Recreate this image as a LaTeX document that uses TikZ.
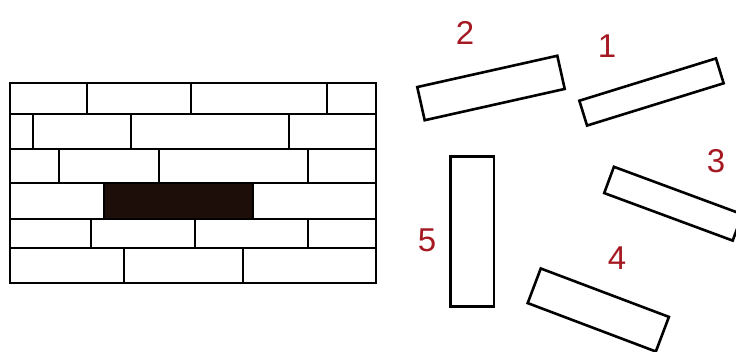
\documentclass[tikz,border=0pt]{standalone}
\usepackage{fontspec}
\setsansfont{Liberation Sans}
\usetikzlibrary{positioning}
\definecolor{LabelRed}{RGB}{165, 25, 35}
\definecolor{HoleBlack}{RGB}{30, 14, 10}

\begin{document}
\begin{tikzpicture}[
    x=1pt, y=-1pt,
    wall/.style={draw=black, line width=2.9pt},
    brick/.style={rectangle, draw=black, line width=2.6pt, fill=white, inner sep=0pt},
    num/.style={text=LabelRed, inner sep=0pt, font=\sffamily\fontsize{33}{35}\selectfont}
  ]
    \useasboundingbox (0,0) rectangle (736,352);

    % Missing brick
    \fill[HoleBlack] (104,183) rectangle (253,219);

    % Wall outline and courses
    \draw[wall] (10,83) rectangle (376,283);
    \foreach \y in {114, 149, 183, 219, 248} {
      \draw[wall] (10,\y) -- (376,\y);
    }

    % Joints
    \foreach \x/\ya/\yb in {87/83/114, 191/83/114, 327/83/114,
                            33/114/149, 131/114/149, 289/114/149,
                            59/149/183, 159/149/183, 308/149/183,
                            104/183/219, 253/183/219,
                            91/219/248, 195/219/248, 308/219/248,
                            124/248/283, 243/248/283} {
      \draw[wall] (\x,\ya) -- (\x,\yb);
    }

    % Loose bricks
    \node[brick, minimum width=143.5pt, minimum height=34pt, rotate=12.6] (b2) at (491,88) {};
    \node[brick, minimum width=143pt, minimum height=26pt, rotate=17.2] (b1) at (651.5,92) {};
    \node[brick, minimum width=137pt, minimum height=28pt, rotate=-20.3] (b3) at (673.3,203.7) {};
    \node[brick, minimum width=137pt, minimum height=37pt, rotate=-20.7] (b4) at (598.3,310) {};
    \node[brick, minimum width=43.3pt, minimum height=150pt] (b5) at (472.3,231.7) {};

    % Labels
    \node[num] (n1) at (607,46) {1};
    \node[num] (n2) at (465,33) {2};
    \node[num] (n3) at (716,161) {3};
    \node[num] (n4) at (617,258) {4};
    \node[num] (n5) at (427,240) {5};
  \end{tikzpicture}
\end{document}
